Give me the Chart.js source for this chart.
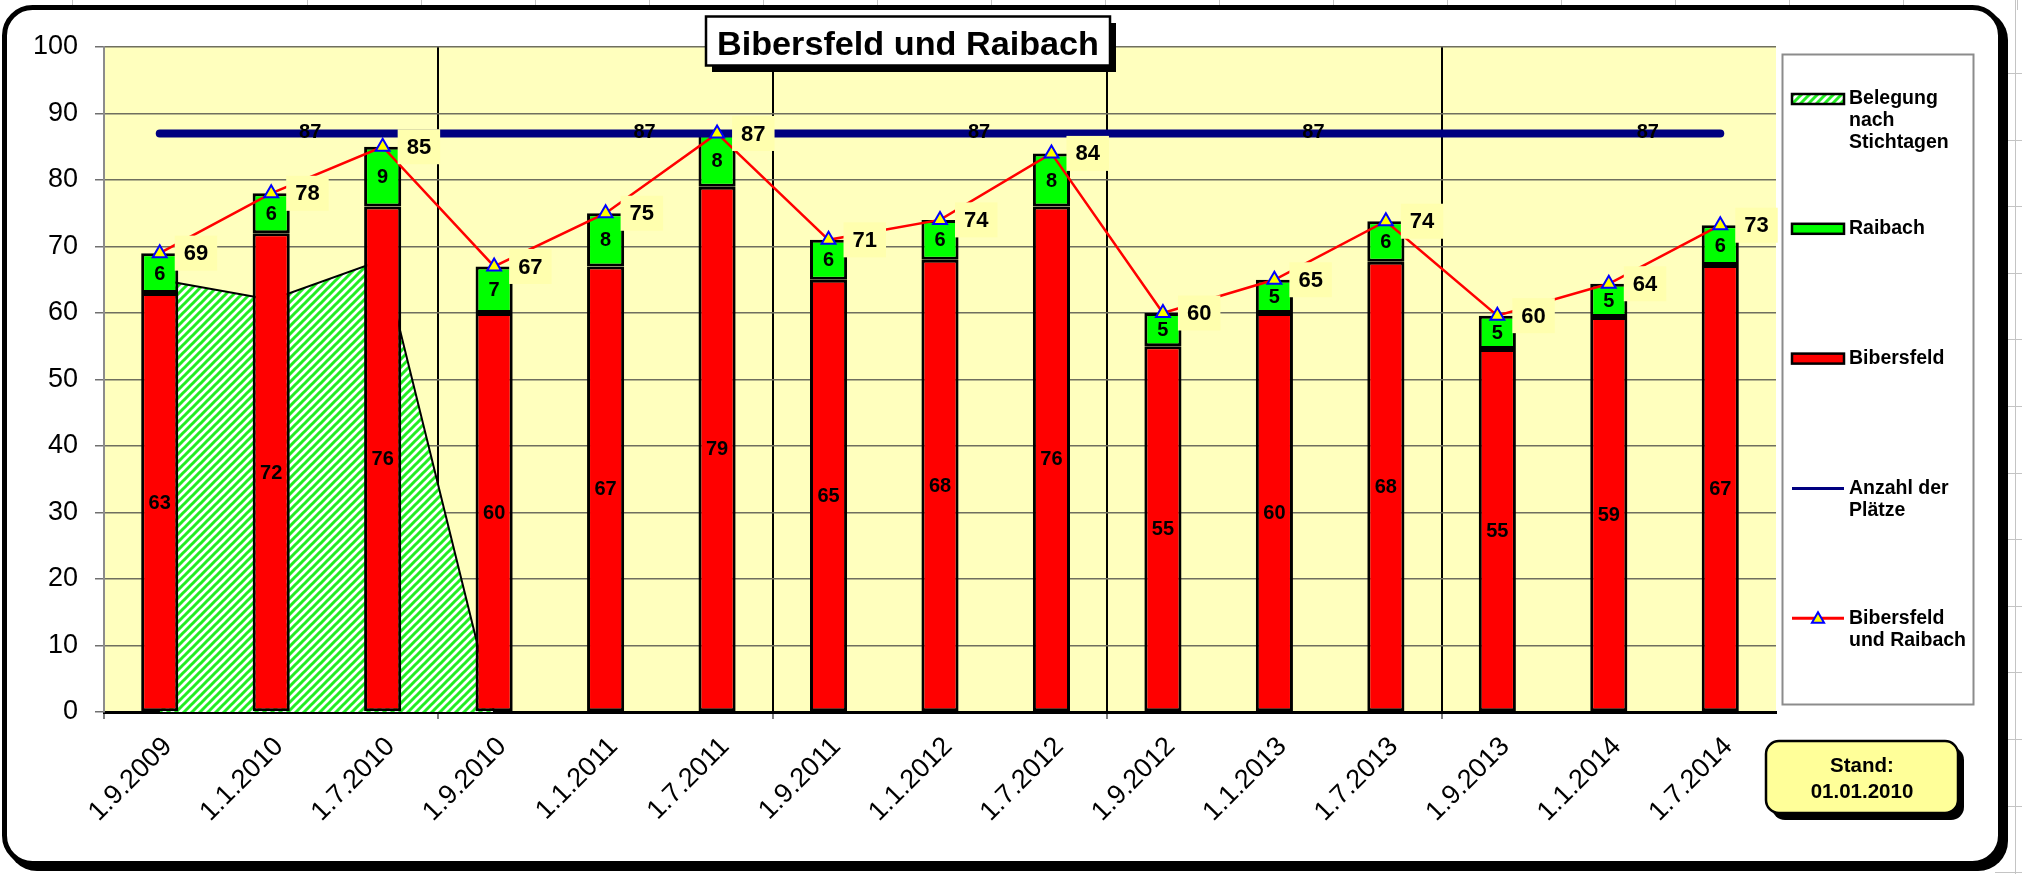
<!DOCTYPE html>
<html><head><meta charset="utf-8">
<script src="https://cdn.jsdelivr.net/npm/chart.js@4.4.0/dist/chart.umd.min.js"></script>
<style>html,body{margin:0;padding:0;background:#fff;overflow:hidden}#wrap{position:relative;width:2022px;height:874px}</style>
</head><body><div id="wrap"><canvas id="c" width="2022" height="874"></canvas></div>
<script>
const categories = ['1.9.2009','1.1.2010','1.7.2010','1.9.2010','1.1.2011','1.7.2011','1.9.2011','1.1.2012','1.7.2012','1.9.2012','1.1.2013','1.7.2013','1.9.2013','1.1.2014','1.7.2014'];
const bibersfeld = [63,72,76,60,67,79,65,68,76,55,60,67.7,54.6,59.4,67.2];
const raibach = [6,6,9,7,8,8,6,6,8,5,5,6.1,5,5,6];
const gesamt = [69,78,85,67,75,87,71,74,84,60,65,73.8,59.6,64.4,73.2];
const belegungStichtage = [65,62,68,0,null,null,null,null,null,null,null,null,null,null,null];
const anzahlPlaetze = [87,87,87,87,87,87,87,87,87,87,87,87,87,87,87];
const yTickValues = [0,10,20,30,40,50,60,70,80,90,100];
const titleText = 'Bibersfeld und Raibach';
const standLines = ['Stand:', '01.01.2010'];

const FONT = '"Liberation Sans", Arial, sans-serif';
const canvas = document.getElementById('c');
const ctx = canvas.getContext('2d');

function makeHatch() {
  const p = document.createElement('canvas'); p.width = 8; p.height = 8;
  const g = p.getContext('2d');
  g.fillStyle = '#ffffff'; g.fillRect(0,0,8,8);
  g.strokeStyle = '#22ee22'; g.lineWidth = 3;
  g.beginPath();
  g.moveTo(-2,10); g.lineTo(10,-2);
  g.moveTo(-2,2); g.lineTo(2,-2);
  g.moveTo(6,10); g.lineTo(10,6);
  g.stroke();
  return ctx.createPattern(p,'repeat');
}
const hatch = makeHatch();

function rr(c, x, y, w, h, r) {
  c.beginPath();
  c.moveTo(x + r, y);
  c.lineTo(x + w - r, y); c.arcTo(x + w, y, x + w, y + r, r);
  c.lineTo(x + w, y + h - r); c.arcTo(x + w, y + h, x + w - r, y + h, r);
  c.lineTo(x + r, y + h); c.arcTo(x, y + h, x, y + h - r, r);
  c.lineTo(x, y + r); c.arcTo(x, y, x + r, y, r);
  c.closePath();
}
function tri(c, x, y, r) {
  c.beginPath();
  c.moveTo(x, y - r);
  c.lineTo(x + r * Math.sin(2*Math.PI/3), y - r * Math.cos(2*Math.PI/3));
  c.lineTo(x + r * Math.sin(4*Math.PI/3), y - r * Math.cos(4*Math.PI/3));
  c.closePath();
}
function wrapText(c, text, maxW) {
  const words = text.split(' '); const lines = []; let cur = '';
  for (const w of words) {
    const t = cur ? cur + ' ' + w : w;
    if (cur && c.measureText(t).width > maxW) { lines.push(cur); cur = w; } else cur = t;
  }
  lines.push(cur); return lines;
}

const deco = {
  id: 'deco',
  beforeDraw(chart) {
    const c = chart.ctx, a = chart.chartArea;
    c.save();
    c.fillStyle = '#fff'; c.fillRect(0, 0, chart.width, chart.height);
    c.strokeStyle = '#c4c4c4'; c.lineWidth = 1; c.beginPath();
    const xs = [72]; for (let x = 307; x < 2022; x += 114) xs.push(x);
    xs.forEach(x => { c.moveTo(x + 0.5, 0); c.lineTo(x + 0.5, 10); });
    for (let y = 73; y < 874; y += 66.6) { c.moveTo(1995, Math.round(y) + 0.5); c.lineTo(2022, Math.round(y) + 0.5); }
    c.moveTo(2015.5, 0); c.lineTo(2015.5, 874);
    c.stroke();
    rr(c, 7, 10, 2001, 861, 30); c.fillStyle = '#000'; c.fill();
    rr(c, 4.5, 7.5, 1996, 856, 28); c.fillStyle = '#fff'; c.fill();
    c.lineWidth = 5; c.strokeStyle = '#000'; c.stroke();
    c.fillStyle = '#FFFFBE';
    c.fillRect(a.left, a.top, a.right - a.left, a.bottom - a.top);
    c.restore();
  },
  afterDatasetsDraw(chart) {
    const c = chart.ctx;
    const xS = chart.scales.x, yS = chart.scales.y;
    c.save();
    c.fillStyle = '#000';
    c.textAlign = 'center'; c.textBaseline = 'middle';
    c.font = 'bold 20px ' + FONT;
    [1, 2].forEach(di => {
      const ds = chart.data.datasets[di];
      chart.getDatasetMeta(di).data.forEach((el, i) => {
        c.fillText(String(Math.round(ds.data[i])), el.x, (el.y + el.base) / 2 + 1);
      });
    });
    c.font = 'bold 20px ' + FONT;
    for (let g = 0; g < 5; g++) {
      c.fillText(String(anzahlPlaetze[g * 3 + 1]), xS.getPixelForValue(g * 3 + 1.35), yS.getPixelForValue(anzahlPlaetze[g * 3 + 1]) - 1);
    }
    c.font = 'bold 22px ' + FONT;
    chart.getDatasetMeta(4).data.forEach((el, i) => {
      const t = String(Math.round(gesamt[i]));
      const w = c.measureText(t).width + 18, h = 35;
      const bx = el.x + 15, by = el.y - h / 2;
      c.fillStyle = '#FFFFAE'; c.fillRect(bx, by, w, h);
      c.fillStyle = '#000'; c.fillText(t, bx + w / 2, el.y + 1);
    });
    c.restore();
  },
  afterDraw(chart) {
    const c = chart.ctx;
    c.save();
    c.fillStyle = '#000'; c.fillRect(712, 23, 404, 49);
    c.fillStyle = '#fff'; c.fillRect(706, 16.5, 404, 49);
    c.lineWidth = 2.5; c.strokeStyle = '#000'; c.strokeRect(706, 16.5, 404, 49);
    c.save();
    c.font = 'bold 34px ' + FONT; c.textAlign = 'center'; c.textBaseline = 'alphabetic'; c.fillStyle = '#000';
    const tw = c.measureText(titleText).width;
    c.translate(908, 54.5); c.scale(382 / tw, 1);
    c.fillText(titleText, 0, 0);
    c.restore();
    c.fillStyle = '#fff'; c.fillRect(1782.5, 54.5, 191, 650);
    c.lineWidth = 2; c.strokeStyle = '#8c8c8c'; c.strokeRect(1782.5, 54.5, 191, 650);
    const order = [0, 2, 1, 3, 4];
    c.font = 'bold 19.5px ' + FONT; c.textAlign = 'left'; c.textBaseline = 'middle';
    order.forEach((di, k) => {
      const ds = chart.data.datasets[di];
      const y = 99 + k * 129.8;
      if (ds.type === 'line' && di !== 0) {
        c.strokeStyle = ds.borderColor; c.lineWidth = 3; c.lineCap = 'butt';
        c.beginPath(); c.moveTo(1792, y); c.lineTo(1844, y); c.stroke();
        if (ds.pointStyle === 'triangle') {
          tri(c, 1818, y + 1, 7);
          c.fillStyle = ds.pointBackgroundColor; c.fill();
          c.strokeStyle = ds.pointBorderColor; c.lineWidth = 2; c.stroke();
        }
      } else {
        c.fillStyle = ds.backgroundColor; c.fillRect(1792, y - 5, 52, 10);
        c.strokeStyle = '#000'; c.lineWidth = 2.5; c.strokeRect(1792, y - 5, 52, 10);
      }
      c.fillStyle = '#000';
      wrapText(c, ds.label, 120).forEach((ln, j) => c.fillText(ln, 1849, y + j * 22));
    });
    rr(c, 1772, 747, 192, 73, 13); c.fillStyle = '#000'; c.fill();
    rr(c, 1766, 741, 192, 72, 13); c.fillStyle = '#FFFF99'; c.fill();
    c.lineWidth = 2.5; c.strokeStyle = '#000'; c.stroke();
    c.fillStyle = '#000'; c.font = 'bold 20.5px ' + FONT; c.textAlign = 'center'; c.textBaseline = 'middle';
    c.fillText(standLines[0], 1862, 766);
    c.fillText(standLines[1], 1862, 792);
    c.restore();
  }
};

new Chart(ctx, {
  type: 'bar',
  data: {
    labels: categories,
    datasets: [
      { type: 'line', label: 'Belegung nach Stichtagen', data: belegungStichtage, stack: 'belegung',
        fill: 'origin', backgroundColor: hatch, borderColor: '#000', borderWidth: 2, pointRadius: 0,
        tension: 0, spanGaps: false, order: 10 },
      { type: 'bar', label: 'Bibersfeld', data: bibersfeld, stack: 'bars', backgroundColor: '#FF0000',
        borderColor: '#000', borderWidth: 3, borderSkipped: false, order: 5 },
      { type: 'bar', label: 'Raibach', data: raibach, stack: 'bars', backgroundColor: '#00FF00',
        borderColor: '#000', borderWidth: 3, borderSkipped: false, order: 5 },
      { type: 'line', label: 'Anzahl der Plätze', data: anzahlPlaetze, stack: 'plaetze', borderColor: '#000080',
        borderWidth: 8, borderCapStyle: 'round', pointRadius: 0, fill: false, order: 3 },
      { type: 'line', label: 'Bibersfeld und Raibach', data: gesamt, stack: 'gesamt', borderColor: '#FF0000',
        borderWidth: 2.5, fill: false, pointStyle: 'triangle', pointRadius: 8, pointBackgroundColor: '#FFFF00',
        pointBorderColor: '#0000FF', pointBorderWidth: 2, order: 1 }
    ]
  },
  options: {
    responsive: false, animation: false, devicePixelRatio: 1,
    layout: { padding: { left: 0, top: 47, right: 246, bottom: 0 } },
    datasets: { bar: { barPercentage: 0.333, categoryPercentage: 1 } },
    plugins: { legend: { display: false }, tooltip: { enabled: false } },
    scales: {
      x: {
        stacked: true, offset: true,
        grid: {
          offset: true, drawOnChartArea: true, tickLength: 7,
          color: c => (c.index % 3 === 0 ? ((c.index === 0 || c.index === 15) ? '#8c8c8c' : '#000') : 'rgba(0,0,0,0)'),
          lineWidth: c => (c.index % 3 === 0 ? 2 : 0),
          tickColor: c => (c.index % 3 === 0 ? '#555' : 'rgba(0,0,0,0)'),
          tickWidth: 1.5
        },
        border: { color: '#000', width: 3 },
        ticks: { autoSkip: false, minRotation: 45, maxRotation: 45, padding: 12, labelOffset: 8,
          color: '#000', font: { family: FONT, size: 27 } },
        afterFit: s => { s.height = 162; }
      },
      y: {
        stacked: true, min: 0, max: 100,
        afterBuildTicks: s => { s.ticks = yTickValues.map(v => ({ value: v })); },
        grid: { color: '#6f6f5f', lineWidth: 1.5, tickLength: 9, tickColor: '#707070' },
        border: { color: '#8c8c8c', width: 2 },
        ticks: { padding: 17, color: '#000', font: { family: FONT, size: 27 } },
        afterFit: s => { s.width = 104; }
      }
    }
  },
  plugins: [deco]
});
</script>
</body></html>
